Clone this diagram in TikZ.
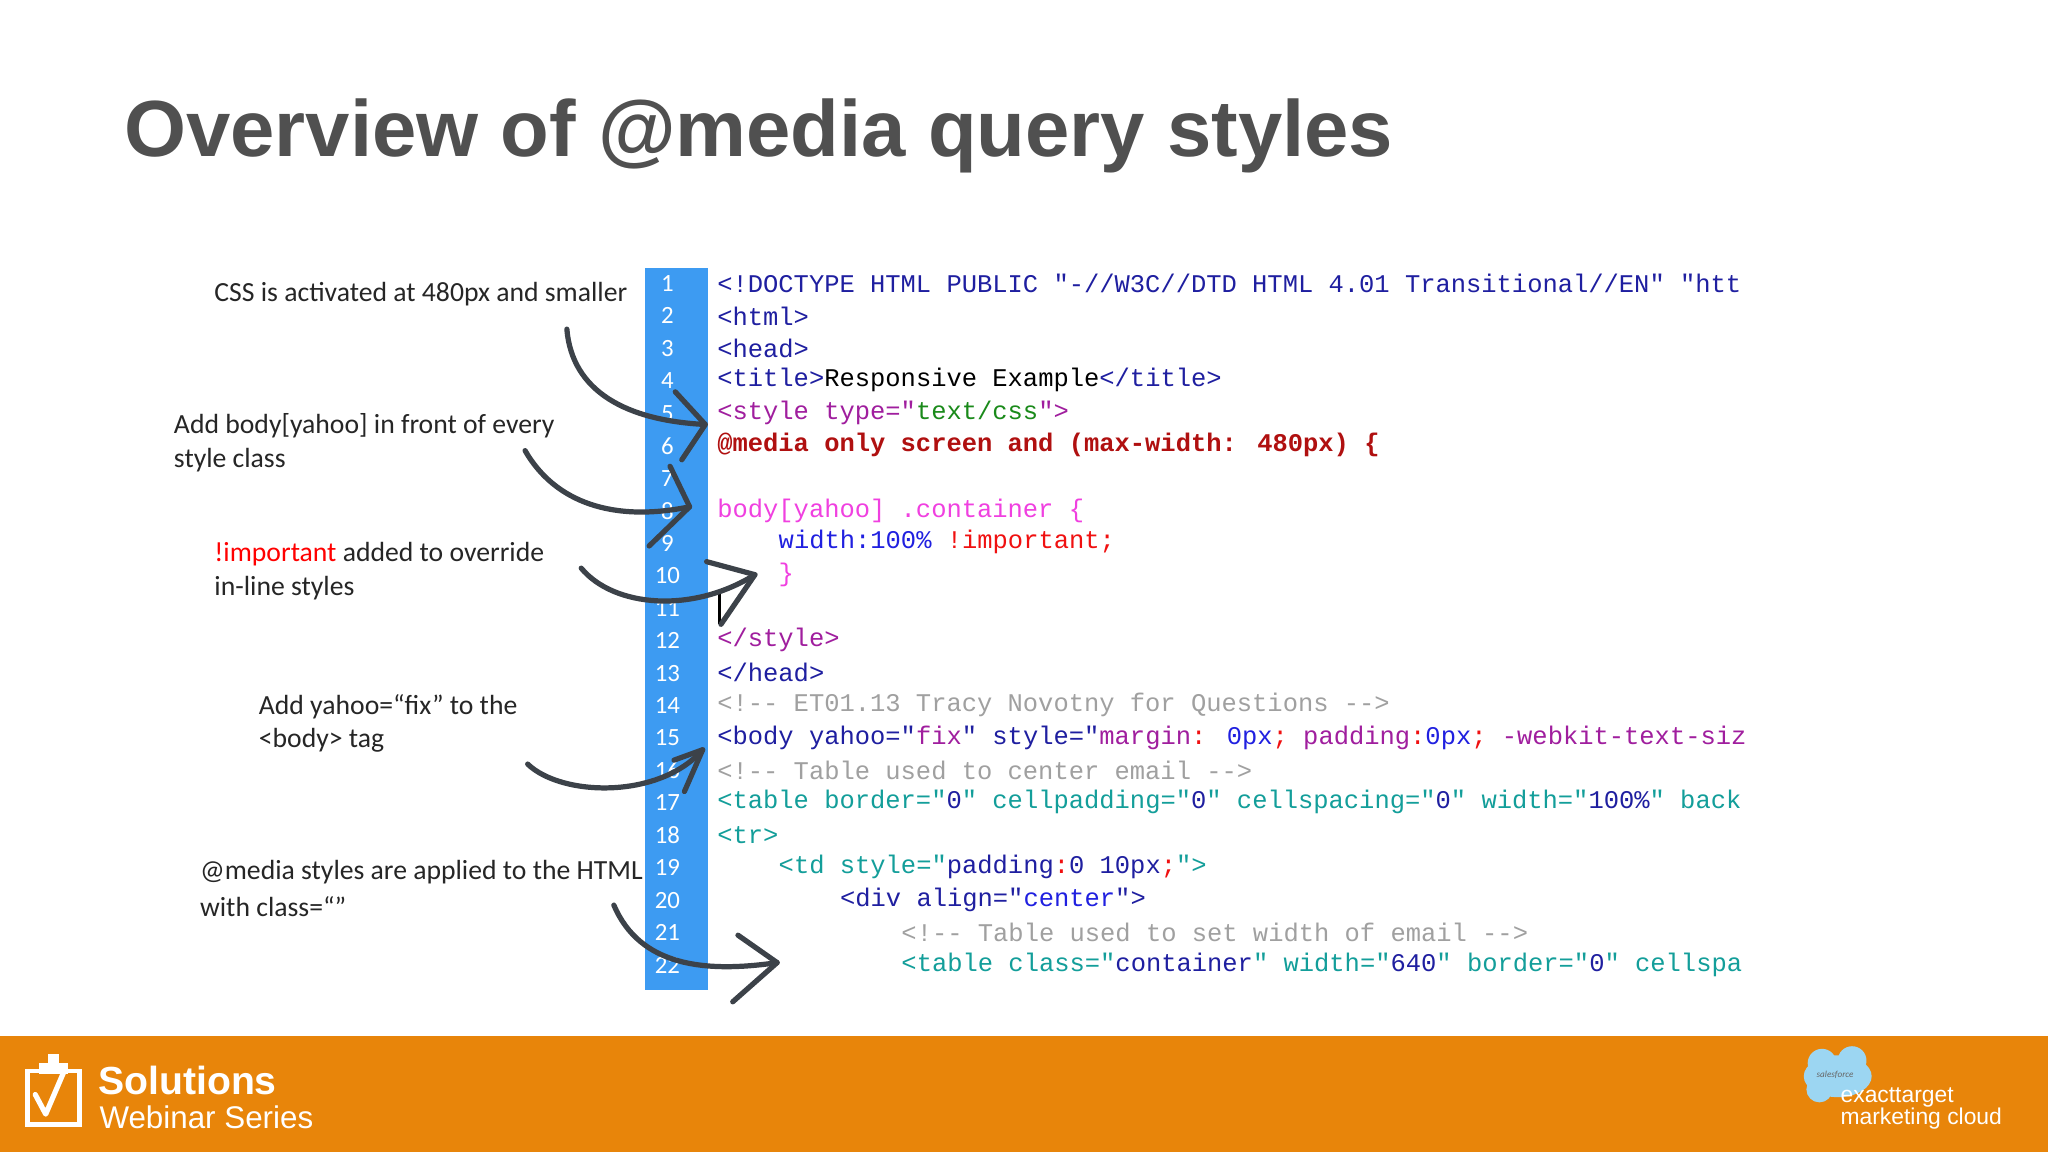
\documentclass[tikz,border=0pt]{standalone}
\usepackage{fontspec}
\setmainfont{Carlito}
\newfontfamily\titlefont{Liberation Sans}
\newfontfamily\codefont{Liberation Mono}
\definecolor{ttl}{HTML}{505050}
\definecolor{bar}{HTML}{3D9BF2}
\definecolor{cnavy}{HTML}{1F1FA0}
\definecolor{cblue}{HTML}{2020E0}
\definecolor{cpur}{HTML}{A01E9E}
\definecolor{cgreen}{HTML}{1A8A1A}
\definecolor{cdred}{HTML}{B01010}
\definecolor{cmag}{HTML}{F040E0}
\definecolor{cred}{HTML}{F01010}
\definecolor{cgray}{HTML}{A0A0A0}
\definecolor{cteal}{HTML}{139E9A}
\definecolor{arr}{HTML}{3C4249}
\definecolor{orng}{HTML}{E8850A}
\definecolor{cloud}{HTML}{9CD6F2}
\begin{document}
\begin{tikzpicture}[x=1pt,y=-1pt,
  code/.style={anchor=west,inner sep=0pt,font=\codefont\fontsize{19.5}{20}\selectfont},
  num/.style={inner sep=0pt,text=white,font=\fontsize{19}{20}\selectfont},
  lbl/.style={anchor=west,inner sep=0pt,font=\fontsize{21.2}{24}\selectfont,text=black!85},
  arw/.style={draw=arr,line width=4pt,line cap=round,line join=round}]
\useasboundingbox (0,0) rectangle (1568,882);
\fill[white] (0,0) rectangle (1568,882);
\node[anchor=base west,inner sep=0pt,text=ttl,font=\titlefont\bfseries\fontsize{61}{70}\selectfont] (title) at (95,120) {Overview of @media query styles};
% labels
\node[lbl] (t1) at (164,225) {CSS is activated at 480px and smaller};
\node[lbl] (t2a) at (133,326) {Add body[yahoo] in front of every};
\node[lbl] (t2b) at (133,352) {style class};
\node[lbl] (t3a) at (164,424) {\textcolor{red}{!important} added to override};
\node[lbl] (t3b) at (164,450) {in-line styles};
\node[lbl] (t4a) at (198,541) {Add yahoo=“fix” to the};
\node[lbl] (t4b) at (198,567) {<body> tag};
\node[lbl] (t5a) at (153,668) {@media styles are applied to the HTML};
\node[lbl] (t5b) at (153,694) {with class=“”};
% bar
\fill[bar] (494,205) rectangle (542,758);
\foreach \i in {1,...,22} {\node[num] (n\i) at (511,{217+24.86*(\i-1)}) {\i};}
% code
\node[code,text=cnavy] (c1) at (549,217) {<!DOCTYPE HTML PUBLIC "-//W3C//DTD HTML 4.01 Transitional//EN" "htt};
\node[code,text=cnavy] (c2) at (549,242) {<html>};
\node[code,text=cnavy] (c3) at (549,267) {<head>};
\node[code,text=black] (c4) at (549,291) {\textcolor{cnavy}{<title>}Responsive Example\textcolor{cnavy}{</title>}};
\node[code,text=cpur] (c5) at (549,316) {<style type="\textcolor{cgreen}{text/css}">};
\node[code,text=cdred] (c6) at (549,341) {\bfseries @media only screen and (max-width: 480px) \{};
\node[code,text=cmag] (c8) at (549,391) {body[yahoo] .container \{};
\node[code,text=cblue] (c9) at (596,415) {width:100\% \textcolor{cred}{!important;}};
\node[code,text=cmag] (c10) at (596,440) {\}};
\node[code,text=cpur] (c12) at (549,490) {</style>};
\node[code,text=cnavy] (c13) at (549,515) {</head>};
\node[code,text=cgray] (c14) at (549,540) {<!-- ET01.13 Tracy Novotny for Questions -->};
\node[code,text=cnavy] (c15) at (549,565) {<body yahoo="\textcolor{cpur}{fix}" style="\textcolor{cpur}{margin}\textcolor{cred}{:} \textcolor{cblue}{0px}\textcolor{cred}{;} \textcolor{cpur}{padding}\textcolor{cred}{:}\textcolor{cblue}{0px}\textcolor{cred}{;} \textcolor{cpur}{-webkit-text-siz}};
\node[code,text=cgray] (c16) at (549,590) {<!-- Table used to center email -->};
\node[code,text=cteal] (c17) at (549,614) {<table border="\textcolor{cnavy}{0}" cellpadding="\textcolor{cnavy}{0}" cellspacing="\textcolor{cnavy}{0}" width="\textcolor{cnavy}{100\%}" back};
\node[code,text=cteal] (c18) at (549,639) {<tr>};
\node[code,text=cteal] (c19) at (596,664) {<td style="\textcolor{cnavy}{padding}\textcolor{cred}{:}\textcolor{cnavy}{0 10px}\textcolor{cred}{;}">};
\node[code,text=cnavy] (c20) at (643,689) {<div align="\textcolor{cblue}{center}">};
\node[code,text=cgray] (c21) at (690,714) {<!-- Table used to set width of email -->};
\node[code,text=cteal] (c22) at (690,739) {<table class="\textcolor{cnavy}{container}" width="\textcolor{cnavy}{640}" border="\textcolor{cnavy}{0}" cellspa};
\draw[black,line width=2pt] (551,455) -- (551,478);
% arrows
\coordinate (a1s) at (434,252); \coordinate (a1e) at (540,325);
\draw[arw] (a1s) .. controls (438,300) and (480,322) .. (a1e);
\draw[arw] (517,300) -- (a1e) -- (522,352);
\coordinate (a2s) at (402,345); \coordinate (a2e) at (528,388);
\draw[arw] (a2s) .. controls (425,385) and (470,400) .. (a2e);
\draw[arw] (513,357) -- (a2e) -- (497,418);
\coordinate (a3s) at (445,435); \coordinate (a3e) at (578,440);
\draw[arw] (a3s) .. controls (470,465) and (530,470) .. (a3e);
\draw[arw] (541,430) -- (a3e) -- (552,478);
\coordinate (a4s) at (404,585); \coordinate (a4e) at (538,574);
\draw[arw] (a4s) .. controls (430,610) and (505,612) .. (a4e);
\draw[arw] (516,582) -- (a4e) -- (524,606);
\coordinate (a5s) at (470,693); \coordinate (a5e) at (595,737);
\draw[arw] (a5s) .. controls (490,740) and (540,745) .. (a5e);
\draw[arw] (565,716) -- (a5e) -- (561,767);
% footer
\fill[orng] (0,793) rectangle (1568,882);
\draw[white,line width=3.5pt] (21,820) rectangle (61,861);
\fill[white] (30,814) rectangle (52,822);
\fill[white] (37,807) rectangle (45,815);
\draw[white,line width=4pt,line cap=round,line join=round] (27,838) -- (35,853) -- (50,818);
\node[anchor=base west,inner sep=0pt,text=white,font=\titlefont\bfseries\fontsize{30}{32}\selectfont] (sol) at (75,838) {Solutions};
\node[anchor=base west,inner sep=0pt,text=white,font=\titlefont\fontsize{24}{26}\selectfont] (web) at (76,864) {Webinar Series};
\fill[cloud] (1407,824) ellipse (26 and 16);
\fill[cloud] (1395,814) circle (11);
\fill[cloud] (1418,812) circle (11);
\fill[cloud] (1393,834) circle (10);
\node[inner sep=0pt,text=black!60,font=\fontsize{7}{8}\selectfont] (sf) at (1405,823) {\textit{salesforce}};
\node[anchor=base west,inner sep=0pt,text=white,font=\titlefont\fontsize{17.5}{19}\selectfont] (et) at (1409,844) {exacttarget};
\node[anchor=base west,inner sep=0pt,text=white,font=\titlefont\fontsize{17.5}{19}\selectfont] (mc) at (1409,861) {marketing cloud};
\end{tikzpicture}
\end{document}
